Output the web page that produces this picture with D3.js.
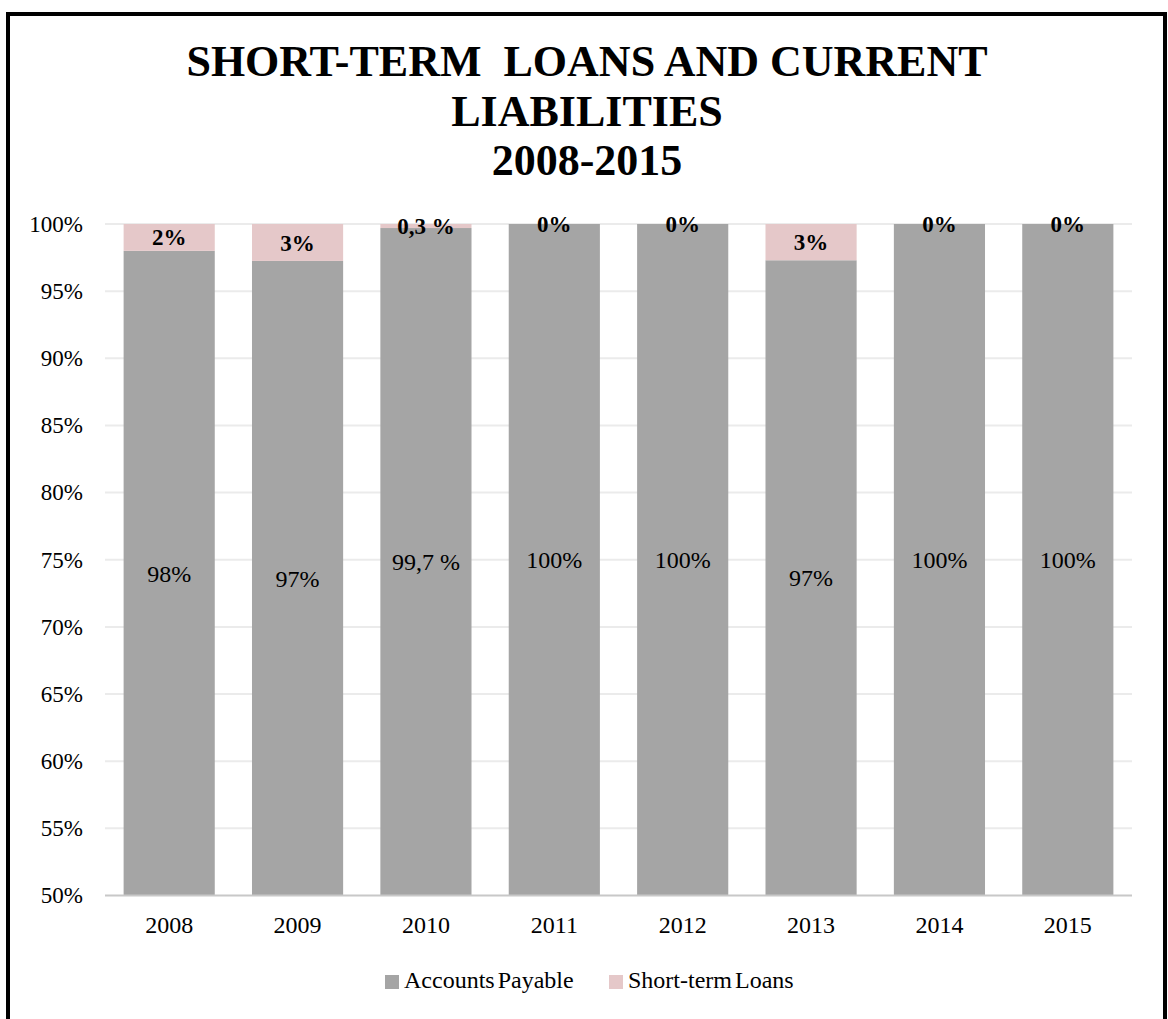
<!DOCTYPE html>
<html>
<head>
<meta charset="utf-8">
<script src="https://cdn.jsdelivr.net/npm/d3@7/dist/d3.min.js"></script>
<style>
  body { margin: 0; background: #fff; }
  svg { display: block; font-family: "Liberation Serif", "Times New Roman", serif; }
</style>
</head>
<body>
<svg id="chart" width="1168" height="1019"></svg>
<script>
const years = ['2008', '2009', '2010', '2011', '2012', '2013', '2014', '2015'];
const accountsPayable = [98, 97.25, 99.7, 100, 100, 97.3, 100, 100];
const shortTermLoans = [2, 2.75, 0.3, 0, 0, 2.7, 0, 0];
const payableLabels = ['98%', '97%', '99,7 %', '100%', '100%', '97%', '100%', '100%'];
const loanLabels = ['2%', '3%', '0,3 %', '0%', '0%', '3%', '0%', '0%'];
const yTicks = [50, 55, 60, 65, 70, 75, 80, 85, 90, 95, 100];
const seriesNames = ['Accounts Payable', 'Short-term Loans'];
const titleLines = ['SHORT-TERM  LOANS AND CURRENT', 'LIABILITIES', '2008-2015'];

const colors = { payable: '#a5a5a5', loans: '#e5c8c9' };

const svg = d3.select('#chart');

// outer frame
svg.append('rect')
  .attr('x', 8)
  .attr('y', 14)
  .attr('width', 1157)
  .attr('height', 1040)
  .attr('fill', '#fff')
  .attr('stroke', '#000')
  .attr('stroke-width', 4);

// title
svg.append('g')
  .selectAll('text')
  .data(titleLines)
  .enter()
  .append('text')
  .attr('x', 587)
  .attr('y', (d, i) => 76 + i * 49.5)
  .attr('text-anchor', 'middle')
  .style('white-space', 'pre')
  .style('font-size', '44px')
  .style('font-weight', 'bold')
  .text(d => d);

const x = d3.scaleBand()
  .domain(years)
  .range([105, 1132])
  .paddingInner(0.29)
  .paddingOuter(0.145);

const y = d3.scaleLinear()
  .domain([50, 100])
  .range([895.5, 224]);

// gridlines
svg.append('g')
  .attr('class', 'grid')
  .selectAll('line')
  .data(yTicks.filter(t => t > 50))
  .enter()
  .append('line')
  .attr('x1', 105)
  .attr('x2', 1132)
  .attr('y1', d => y(d))
  .attr('y2', d => y(d))
  .attr('stroke', '#ebebeb')
  .attr('stroke-width', 2);

// y axis labels
const yAxis = svg.append('g')
  .attr('transform', 'translate(83,0)')
  .call(d3.axisLeft(y).tickValues(yTicks).tickSize(0).tickPadding(0).tickFormat(d => d + '%'));
yAxis.select('.domain').remove();
yAxis.selectAll('text')
  .style('font-family', '"Liberation Serif", "Times New Roman", serif')
  .style('font-size', '23px')
  .attr('fill', '#000');

// stacked bars
const bars = svg.append('g');
bars.selectAll('rect.payable')
  .data(years)
  .enter()
  .append('rect')
  .attr('class', 'payable')
  .attr('x', d => x(d))
  .attr('width', x.bandwidth())
  .attr('y', (d, i) => y(accountsPayable[i]))
  .attr('height', (d, i) => y(50) - y(accountsPayable[i]))
  .attr('fill', colors.payable);

bars.selectAll('rect.loans')
  .data(years)
  .enter()
  .append('rect')
  .attr('class', 'loans')
  .attr('x', d => x(d))
  .attr('width', x.bandwidth())
  .attr('y', (d, i) => y(accountsPayable[i] + shortTermLoans[i]))
  .attr('height', (d, i) => y(accountsPayable[i]) - y(accountsPayable[i] + shortTermLoans[i]))
  .attr('fill', colors.loans);

// baseline
svg.append('line')
  .attr('x1', 105)
  .attr('x2', 1132)
  .attr('y1', y(50))
  .attr('y2', y(50))
  .attr('stroke', '#c8c8c8')
  .attr('stroke-width', 2);

// data labels
svg.append('g')
  .selectAll('text')
  .data(years)
  .enter()
  .append('text')
  .attr('x', d => x(d) + x.bandwidth() / 2)
  .attr('y', (d, i) => (y(50) + y(accountsPayable[i])) / 2)
  .attr('dy', '0.35em')
  .attr('text-anchor', 'middle')
  .style('white-space', 'pre')
  .style('font-size', '24px')
  .text((d, i) => payableLabels[i]);

svg.append('g')
  .selectAll('text')
  .data(years)
  .enter()
  .append('text')
  .attr('x', d => x(d) + x.bandwidth() / 2)
  .attr('y', (d, i) => (y(accountsPayable[i]) + y(accountsPayable[i] + shortTermLoans[i])) / 2)
  .attr('dy', '0.35em')
  .attr('text-anchor', 'middle')
  .style('white-space', 'pre')
  .style('font-size', '23px')
  .style('font-weight', 'bold')
  .text((d, i) => loanLabels[i]);

// x axis labels
const xAxis = svg.append('g')
  .attr('transform', `translate(0,${y(50)})`)
  .call(d3.axisBottom(x).tickSize(0).tickPadding(20));
xAxis.select('.domain').remove();
xAxis.selectAll('text')
  .style('font-family', '"Liberation Serif", "Times New Roman", serif')
  .style('font-size', '24px')
  .attr('fill', '#000');

// legend
const legendX = [385, 609];
const legend = svg.append('g')
  .selectAll('g')
  .data(seriesNames)
  .enter()
  .append('g')
  .attr('transform', (d, i) => `translate(${legendX[i]},975)`);

legend.append('rect')
  .attr('width', 14)
  .attr('height', 14)
  .attr('fill', (d, i) => i === 0 ? colors.payable : colors.loans);

legend.append('text')
  .attr('x', 19)
  .attr('y', 13)
  .style('font-size', '24px')
  .style('word-spacing', '-3px')
  .text(d => d);
</script>
</body>
</html>
